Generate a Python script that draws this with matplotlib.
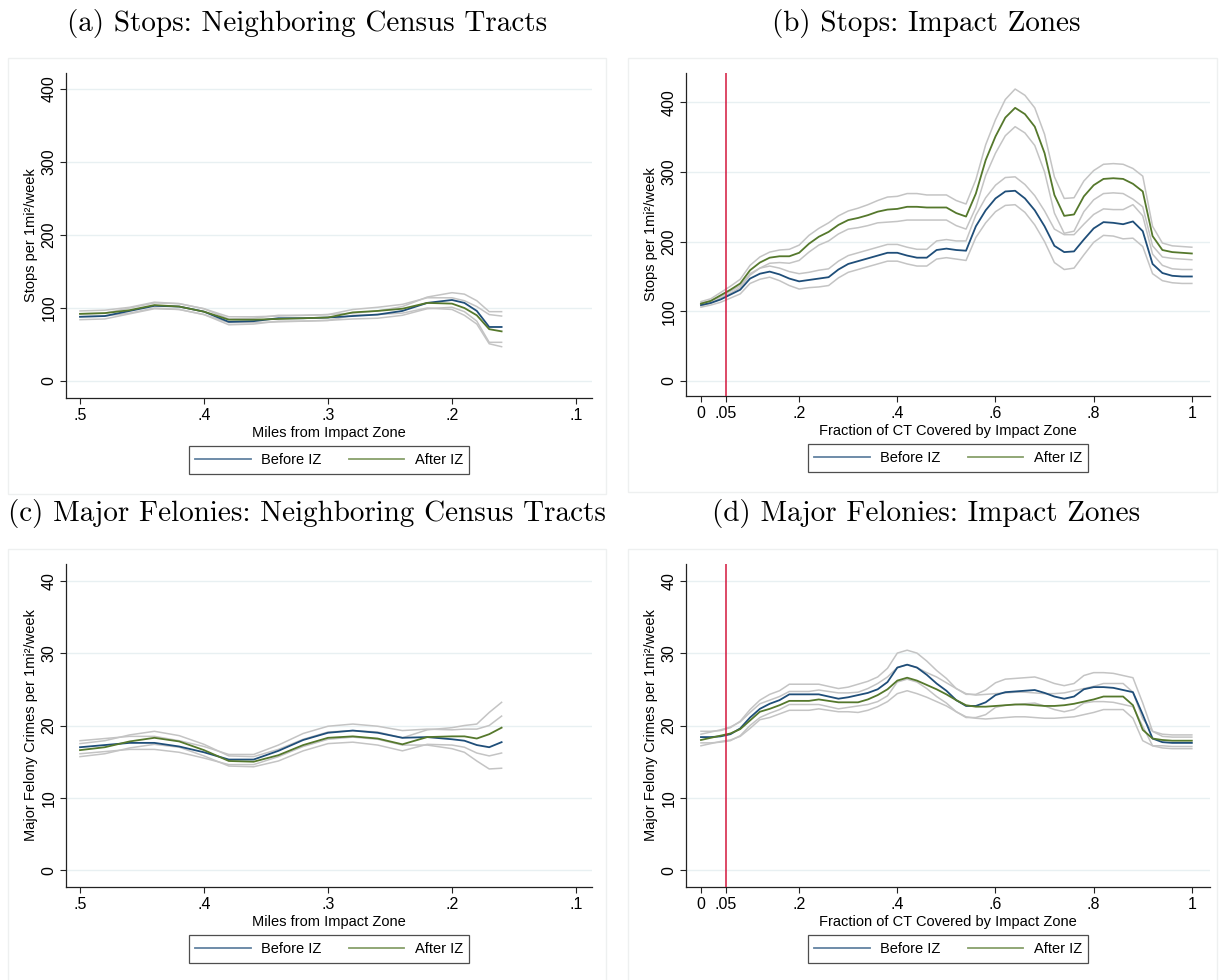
import numpy as np
import matplotlib
matplotlib.use("Agg")
import matplotlib.pyplot as plt
from matplotlib.patches import Rectangle
from matplotlib.lines import Line2D

plt.rcParams["font.family"] = ["Liberation Sans", "DejaVu Sans"]

W, H = 1225, 980

BLUE = "#1f4e79"
GREEN = "#55782c"
CI_GRAY = "#c4c4c4"
GRID = "#e8f0f2"
RED = "#d3173d"

# ---- neighbouring tracts: distance from impact zone (miles) ----
miles = [0.50, 0.48, 0.46, 0.44, 0.42, 0.40, 0.38, 0.36, 0.34, 0.32,
         0.30, 0.28, 0.26, 0.24, 0.22, 0.20, 0.19, 0.18, 0.17, 0.16]

stops_nb_before = [88, 89, 96, 103, 102, 95, 81, 82, 86, 86,
                   87, 89, 91, 96, 107, 111, 107, 96, 74, 74]
stops_nb_before_hw = [4, 4, 4, 4, 4, 4, 4, 4, 4, 4,
                      4, 4, 5, 6, 8, 10, 12, 14, 21, 21]
stops_nb_after = [92, 93, 97, 104, 102, 95, 84, 84, 85, 86,
                  87, 94, 96, 99, 107, 106, 100, 90, 71, 68]
stops_nb_after_hw = [4, 4, 4, 4, 4, 4, 4, 4, 4, 4,
                     4, 4, 5, 6, 7, 8, 10, 12, 20, 21]

fel_nb_before = [17.0, 17.3, 17.6, 17.6, 17.1, 16.3, 15.3, 15.3, 16.5, 18.0,
                 19.0, 19.3, 19.0, 18.3, 18.4, 18.1, 17.9, 17.3, 17.0, 17.7]
fel_nb_before_hw = [0.9, 0.9, 0.9, 0.9, 0.8, 0.8, 0.7, 0.7, 0.8, 0.9,
                    0.9, 0.9, 0.9, 1.0, 1.1, 1.3, 1.6, 2.2, 3.0, 3.6]
fel_nb_after = [16.6, 17.0, 17.8, 18.3, 17.8, 16.6, 15.1, 15.0, 15.9, 17.3,
                18.3, 18.5, 18.2, 17.4, 18.4, 18.5, 18.5, 18.2, 18.8, 19.7]
fel_nb_after_hw = [0.9, 0.9, 0.9, 0.9, 0.8, 0.8, 0.7, 0.7, 0.8, 0.8,
                   0.8, 0.8, 0.9, 0.9, 1.0, 1.2, 1.5, 2.0, 3.0, 3.5]

# ---- impact zones: fraction of census tract covered ----
frac = [round(0.02 * i, 2) for i in range(51)]

stops_iz_before = [109, 112, 117, 124, 131, 147, 154, 157, 153, 147,
                   143, 145, 147, 149, 160, 168, 172, 176, 180, 184,
                   184, 180, 177, 177, 188, 190, 188, 187, 222, 245,
                   262, 272, 273, 262, 245, 222, 194, 185, 186, 203,
                   219, 228, 227, 225, 229, 215, 168, 155, 151, 150, 150]
stops_iz_before_hw = [3, 3, 4, 5, 6, 7, 8, 8, 9, 10,
                      11, 11, 12, 12, 12, 12, 12, 12, 12, 12,
                      12, 12, 12, 12, 13, 13, 13, 14, 16, 18,
                      19, 20, 20, 20, 21, 22, 24, 25, 24, 22,
                      20, 19, 19, 21, 24, 22, 14, 11, 10, 10, 10]
stops_iz_after = [111, 115, 123, 131, 140, 159, 170, 177, 179, 179,
                  184, 197, 207, 214, 224, 231, 234, 238, 243, 246,
                  247, 250, 250, 249, 249, 249, 241, 236, 269, 317,
                  351, 378, 392, 383, 365, 327, 267, 237, 239, 265,
                  281, 290, 291, 290, 283, 272, 208, 188, 185, 184, 183]
stops_iz_after_hw = [3, 3, 4, 5, 6, 7, 8, 8, 9, 10,
                     11, 12, 12, 13, 13, 13, 14, 15, 16, 18,
                     18, 19, 19, 18, 18, 18, 18, 18, 20, 22,
                     24, 26, 27, 27, 27, 27, 26, 25, 24, 22,
                     21, 21, 21, 21, 22, 22, 14, 10, 9, 9, 9]

fel_iz_before = [18.4, 18.4, 18.5, 18.8, 19.6, 21.1, 22.3, 23.0, 23.5, 24.3,
                 24.3, 24.3, 24.3, 24.0, 23.7, 23.9, 24.2, 24.5, 25.0, 26.0,
                 28.0, 28.4, 28.0, 27.0, 25.8, 24.8, 23.5, 22.7, 22.7, 23.2,
                 24.2, 24.6, 24.7, 24.8, 24.9, 24.5, 24.0, 23.7, 24.0, 25.0,
                 25.3, 25.3, 25.2, 24.9, 24.6, 21.5, 18.2, 17.7, 17.6, 17.6, 17.6]
fel_iz_before_hw = [0.8, 0.8, 0.8, 0.9, 1.0, 1.1, 1.2, 1.3, 1.3, 1.4,
                    1.4, 1.4, 1.4, 1.4, 1.4, 1.4, 1.5, 1.6, 1.7, 1.9,
                    2.0, 2.0, 2.0, 1.9, 1.8, 1.7, 1.6, 1.6, 1.6, 1.7,
                    1.7, 1.8, 1.8, 1.8, 1.8, 1.8, 1.8, 1.8, 1.8, 1.9,
                    2.0, 2.0, 2.0, 2.0, 2.0, 1.6, 1.0, 0.8, 0.8, 0.8, 0.8]
fel_iz_after = [18.0, 18.3, 18.6, 18.9, 19.5, 20.7, 21.9, 22.3, 22.8, 23.4,
                23.4, 23.4, 23.6, 23.4, 23.2, 23.2, 23.2, 23.6, 24.2, 25.0,
                26.2, 26.6, 26.2, 25.6, 25.0, 24.3, 23.5, 22.8, 22.6, 22.6,
                22.7, 22.8, 22.9, 22.9, 22.8, 22.7, 22.7, 22.8, 23.0, 23.3,
                23.6, 24.0, 24.0, 24.0, 22.8, 19.4, 18.2, 18.0, 17.9, 17.9, 17.9]
fel_iz_after_hw = [0.8, 0.8, 0.8, 0.9, 1.0, 1.1, 1.1, 1.2, 1.2, 1.3,
                   1.3, 1.3, 1.3, 1.3, 1.3, 1.3, 1.4, 1.5, 1.6, 1.7,
                   1.8, 1.8, 1.8, 1.7, 1.7, 1.6, 1.6, 1.6, 1.6, 1.7,
                   1.7, 1.7, 1.7, 1.7, 1.7, 1.7, 1.7, 1.7, 1.8, 1.8,
                   1.8, 1.8, 1.8, 1.8, 1.8, 1.5, 1.0, 0.8, 0.8, 0.8, 0.8]

miles_ticks = [0.5, 0.4, 0.3, 0.2, 0.1]
miles_labels = [".5", ".4", ".3", ".2", ".1"]
frac_ticks = [0, 0.05, 0.2, 0.4, 0.6, 0.8, 1.0]
frac_labels = ["0", ".05", ".2", ".4", ".6", ".8", "1"]
stops_ticks = [0, 100, 200, 300, 400]
fel_ticks = [0, 10, 20, 30, 40]
CUTOFF = 0.05

STOPS_YLAB = "Stops per 1mi²/week"
FEL_YLAB = "Major Felony Crimes per 1mi²/week"

fig = plt.figure(figsize=(W / 100, H / 100), dpi=100)
fig.patch.set_facecolor("white")


def px_axes(l, t, r, b):
    return fig.add_axes([l / W, 1 - b / H, (r - l) / W, (b - t) / H])


def box(l, t, r, b):
    fig.add_artist(Rectangle((l / W, 1 - b / H), (r - l) / W, (b - t) / H,
                             transform=fig.transFigure, fill=False,
                             edgecolor="#eef0f0", linewidth=1.0))


def panel(rect, title, x, before, bhw, after, ahw, xlim, ylim,
          xticks, xlabels, yticks, xlabel, ylabel, cutoff=None):
    l, t, r, b = rect
    box(l - 58, t - 15, r + 14 if r < 700 else r + 7, b + 96)
    fig.text(((l - 58) + (r + 14)) / 2 / W, 1 - (t - 50) / H, title,
             family="cmr10", fontsize=21, ha="center", va="center")
    ax = px_axes(l, t, r, b)
    x = np.asarray(x)
    before, bhw = np.asarray(before), np.asarray(bhw)
    after, ahw = np.asarray(after), np.asarray(ahw)
    for y in (before + bhw, before - bhw, after + ahw, after - ahw):
        ax.plot(x, y, color=CI_GRAY, lw=1.1, zorder=2)
    ax.plot(x, before, color=BLUE, lw=1.3, zorder=3)
    ax.plot(x, after, color=GREEN, lw=1.3, zorder=4)
    if cutoff is not None:
        ax.axvline(cutoff, color=RED, lw=1.1, zorder=5)
    ax.set_xlim(*xlim)
    ax.set_ylim(*ylim)
    ax.set_xticks(xticks)
    ax.set_xticklabels(xlabels)
    ax.set_yticks(yticks)
    ax.set_yticklabels([str(v) for v in yticks], rotation=90, va="center")
    ax.yaxis.grid(True, color=GRID, lw=1.0, zorder=0)
    ax.set_axisbelow(True)
    for s in ("top", "right"):
        ax.spines[s].set_visible(False)
    for s in ("left", "bottom"):
        ax.spines[s].set_color("#222222")
        ax.spines[s].set_linewidth(0.9)
    ax.tick_params(direction="out", length=4, width=0.8, color="#222222",
                   labelsize=11.5, pad=3)
    ax.set_xlabel(xlabel, fontsize=10.5, labelpad=2)
    ax.set_ylabel(ylabel, fontsize=10.5, labelpad=2.5)
    handles = [Line2D([], [], color=BLUE, lw=1.3, alpha=0.7),
               Line2D([], [], color=GREEN, lw=1.3, alpha=0.7)]
    leg = fig.legend(handles, ["Before IZ", "After IZ"], ncol=2,
                     loc="center", bbox_to_anchor=((l + r) / 2 / W, 1 - (b + 62) / H),
                     frameon=True, fancybox=False, fontsize=10.5,
                     handlelength=3.8, columnspacing=1.9, handletextpad=0.7,
                     borderpad=0.45, borderaxespad=0)
    leg.get_frame().set_edgecolor("#222222")
    leg.get_frame().set_linewidth(0.9)
    return ax


panel((66, 73, 592, 398), "(a) Stops: Neighboring Census Tracts",
      miles, stops_nb_before, stops_nb_before_hw, stops_nb_after, stops_nb_after_hw,
      (0.5113, 0.0871), (-23.3, 422), miles_ticks, miles_labels, stops_ticks,
      "Miles from Impact Zone", STOPS_YLAB)

panel((686, 73, 1210, 396), "(b) Stops: Impact Zones",
      frac, stops_iz_before, stops_iz_before_hw, stops_iz_after, stops_iz_after_hw,
      (-0.0305, 1.037), (-21.5, 442), frac_ticks, frac_labels, stops_ticks,
      "Fraction of CT Covered by Impact Zone", STOPS_YLAB, cutoff=CUTOFF)

panel((66, 564, 592, 887), "(c) Major Felonies: Neighboring Census Tracts",
      miles, fel_nb_before, fel_nb_before_hw, fel_nb_after, fel_nb_after_hw,
      (0.5113, 0.0871), (-2.3, 42.3), miles_ticks, miles_labels, fel_ticks,
      "Miles from Impact Zone", FEL_YLAB)

panel((686, 564, 1210, 887), "(d) Major Felonies: Impact Zones",
      frac, fel_iz_before, fel_iz_before_hw, fel_iz_after, fel_iz_after_hw,
      (-0.0305, 1.037), (-2.3, 42.3), frac_ticks, frac_labels, fel_ticks,
      "Fraction of CT Covered by Impact Zone", FEL_YLAB, cutoff=CUTOFF)

fig.savefig("out.png", dpi=100, facecolor="white")
